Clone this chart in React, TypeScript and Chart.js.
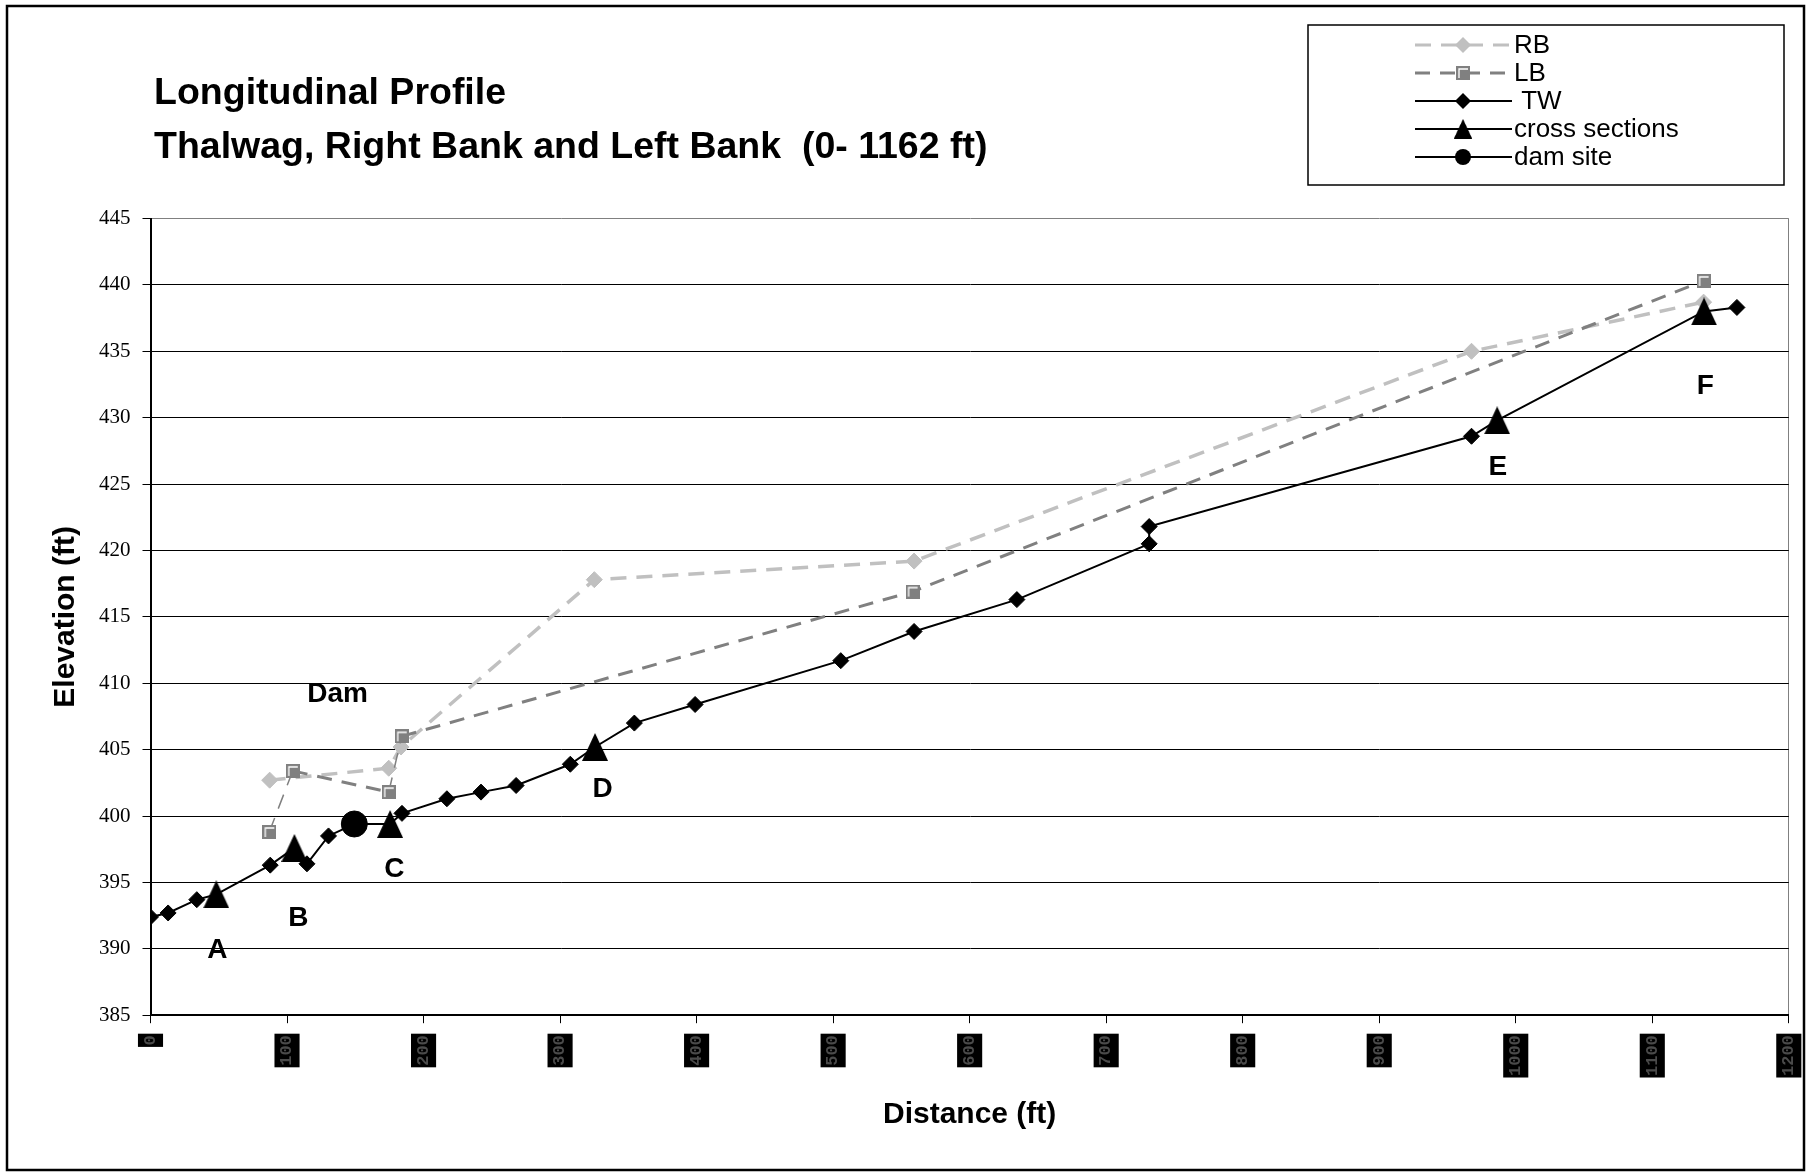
import React, { useEffect, useRef } from 'react';
import { Chart, registerables } from 'chart.js';

Chart.register(...registerables);

// ---- data (distance ft, elevation ft) ----
const TW_X = [0, 12.9, 33.9, 48.2, 87.7, 105.4, 114.6, 130.4, 149.3, 175.5, 184.2, 217.1, 242.1, 267.8, 307.5, 325.6, 354.4, 398.9, 505.6, 559.3, 634.6, 731.5, 731.5, 967.6, 986.4, 1137.9, 1162];
const TW_Y = [392.4, 392.7, 393.7, 394.1, 396.3, 397.6, 396.4, 398.5, 399.4, 399.4, 400.2, 401.3, 401.8, 402.3, 403.9, 405.2, 407.0, 408.4, 411.7, 413.9, 416.3, 420.5, 421.8, 428.6, 429.8, 438.0, 438.3];

const RB_X = [87.3, 174.5, 183.5, 325.1, 559.3, 967.6, 1137.6];
const RB_Y = [402.7, 403.6, 405.2, 417.8, 419.2, 435.0, 438.7];

const LB_X = [87.0, 104.2, 174.5, 184.0, 558.2, 1137.6];
const LB_Y = [398.8, 403.4, 401.8, 406.0, 416.9, 440.3];

const XS_X = [48.2, 105.4, 175.5, 325.6, 986.4, 1137.9];
const XS_Y = [394.1, 397.6, 399.4, 405.2, 429.8, 438.0];

const DAM_X = [149.3];
const DAM_Y = [399.4];

const NOTE_TEXT = ['A', 'B', 'C', 'D', 'E', 'F', 'Dam'];
const NOTE_X = [49.0, 108.3, 178.6, 331.1, 986.9, 1138.8, 137.1];
const NOTE_Y = [389.9, 392.3, 396.0, 402.0, 426.3, 432.4, 409.2];

const LEGEND_LABELS = ['RB', 'LB', ' TW', 'cross sections', 'dam site'];
const TITLE_LINES = ['Longitudinal Profile', 'Thalwag, Right Bank and Left Bank  (0- 1162 ft)'];
const X_TITLE = 'Distance (ft)';
const Y_TITLE = 'Elevation (ft)';
const Y_MIN = 385, Y_MAX = 445, Y_STEP = 5;
const X_MIN = 0, X_MAX = 1200, X_STEP = 100;

const pts = (xs: number[], ys: number[]) => xs.map((x, i) => ({ x, y: ys[i] }));

const W = 1813, H = 1175;
const PLOT_L = 150.5, PLOT_R = 1788.8, PLOT_T = 218.5, PLOT_B = 1015.2;

const RB_COLOR = '#c0c0c0';
const LB_COLOR = '#808080';

const XT_SIZE = 17, XT_LH = 1.3;

function makeTriangle() {
  const c = document.createElement('canvas');
  c.width = 26; c.height = 28;
  const g = c.getContext('2d')!;
  g.fillStyle = '#000';
  g.beginPath();
  g.moveTo(13, 0); g.lineTo(26, 28); g.lineTo(0, 28); g.closePath();
  g.fill();
  return c;
}

function makeSquare() {
  const c = document.createElement('canvas');
  c.width = 14; c.height = 14;
  const g = c.getContext('2d')!;
  g.fillStyle = LB_COLOR;
  g.fillRect(0, 0, 14, 14);
  g.strokeStyle = '#ffffff';
  g.lineWidth = 1.3;
  g.beginPath();
  g.moveTo(3, 12); g.lineTo(3, 3); g.lineTo(12, 3);
  g.stroke();
  return c;
}

const thinSteep = (c: any) =>
  Math.abs(c.p1.y - c.p0.y) > 2 * Math.abs(c.p1.x - c.p0.x) ? 1.5 : undefined;

export default function App() {
  const ref = useRef<HTMLCanvasElement>(null);

  useEffect(() => {
    const canvas = ref.current!;
    const tri = makeTriangle();
    const sq = makeSquare();

    const decor = {
      id: 'decor',
      beforeDraw(chart: any) {
        const ctx = chart.ctx;
        ctx.save();
        ctx.fillStyle = '#fff';
        ctx.fillRect(0, 0, W, H);
        ctx.restore();
      },
      afterDraw(chart: any) {
        const ctx = chart.ctx;
        const xs = chart.scales.x, ys = chart.scales.y;
        ctx.save();
        // outer frame
        ctx.strokeStyle = '#000';
        ctx.lineWidth = 2.5;
        ctx.strokeRect(7, 6, 1797, 1164);
        // title
        ctx.fillStyle = '#000';
        ctx.font = 'bold 37.5px "Liberation Sans", Arial, sans-serif';
        ctx.textAlign = 'left';
        ctx.textBaseline = 'alphabetic';
        ctx.fillText(TITLE_LINES[0], 154, 104);
        ctx.fillText(TITLE_LINES[1], 154, 158);
        // point annotations
        ctx.font = 'bold 28px "Liberation Sans", Arial, sans-serif';
        ctx.textAlign = 'center';
        ctx.textBaseline = 'middle';
        NOTE_TEXT.forEach((t, i) => {
          ctx.fillText(t, xs.getPixelForValue(NOTE_X[i]), ys.getPixelForValue(NOTE_Y[i]));
        });
        // legend
        const bx = 1308, by = 25, bw = 476, bh = 160;
        ctx.fillStyle = '#fff';
        ctx.fillRect(bx, by, bw, bh);
        ctx.strokeStyle = '#000';
        ctx.lineWidth = 1.5;
        ctx.strokeRect(bx, by, bw, bh);
        const lx0 = 1415, lx1 = 1512, mx = 1463;
        const ds = chart.data.datasets;
        const order = [4, 3, 2, 0, 1]; // RB, LB, TW, cross sections, dam site -> dataset indices
        order.forEach((di: number, row: number) => {
          const d = ds[di];
          const y = 45 + row * 28;
          ctx.save();
          ctx.strokeStyle = d.borderColor;
          ctx.lineWidth = d.legendLineWidth;
          ctx.setLineDash(d.borderDash || []);
          ctx.beginPath();
          ctx.moveTo(lx0, y); ctx.lineTo(lx1, y);
          ctx.stroke();
          ctx.setLineDash([]);
          const st = d.pointStyle;
          if (st === 'rectRot') {
            const r = 8;
            ctx.fillStyle = d.pointBackgroundColor;
            ctx.beginPath();
            ctx.moveTo(mx - r, y); ctx.lineTo(mx, y - r); ctx.lineTo(mx + r, y); ctx.lineTo(mx, y + r);
            ctx.closePath();
            ctx.fill();
          } else if (st === 'circle') {
            ctx.fillStyle = '#000';
            ctx.beginPath();
            ctx.arc(mx, y, 8, 0, Math.PI * 2);
            ctx.fill();
          } else if (st && st.width) {
            const s = st === tri ? 0.72 : 1;
            ctx.drawImage(st, mx - (st.width * s) / 2, y - (st.height * s) / 2, st.width * s, st.height * s);
          }
          ctx.restore();
          ctx.fillStyle = '#000';
          ctx.font = '26px "Liberation Sans", Arial, sans-serif';
          ctx.textAlign = 'left';
          ctx.textBaseline = 'middle';
          ctx.fillText(LEGEND_LABELS[row], lx1 + 2, y + 1);
        });
        ctx.restore();
      },
    };

    const chart = new Chart(canvas, {
      type: 'line',
      data: {
        datasets: [
          {
            label: 'cross sections',
            data: pts(XS_X, XS_Y),
            showLine: false,
            borderColor: '#000',
            legendLineWidth: 2,
            pointStyle: tri,
            pointRadius: 13,
            order: 0,
          } as any,
          {
            label: 'dam site',
            data: pts(DAM_X, DAM_Y),
            showLine: false,
            borderColor: '#000',
            legendLineWidth: 2,
            pointStyle: 'circle',
            pointRadius: 13,
            pointBorderWidth: 1,
            pointBackgroundColor: '#000',
            pointBorderColor: '#000',
            order: 1,
          } as any,
          {
            label: 'TW',
            data: pts(TW_X, TW_Y),
            borderColor: '#000',
            borderWidth: 2,
            legendLineWidth: 2,
            pointStyle: 'rectRot',
            pointRadius: (c: any) => {
              const x = TW_X[c.dataIndex];
              return XS_X.includes(x) || DAM_X.includes(x) ? 0 : 8;
            },
            pointBackgroundColor: '#000',
            pointBorderColor: '#000',
            pointBorderWidth: 1,
            tension: 0,
            order: 2,
          } as any,
          {
            label: 'LB',
            data: pts(LB_X, LB_Y),
            borderColor: LB_COLOR,
            borderWidth: 3,
            legendLineWidth: 3,
            borderDash: [15, 10],
            segment: { borderWidth: thinSteep },
            pointStyle: sq,
            pointRadius: 7,
            tension: 0,
            order: 3,
          } as any,
          {
            label: 'RB',
            data: pts(RB_X, RB_Y),
            borderColor: RB_COLOR,
            borderWidth: 3.5,
            legendLineWidth: 3,
            borderDash: [16, 10],
            segment: { borderWidth: thinSteep },
            pointStyle: 'rectRot',
            pointRadius: 8,
            pointBackgroundColor: RB_COLOR,
            pointBorderColor: RB_COLOR,
            pointBorderWidth: 1,
            tension: 0,
            order: 4,
          } as any,
        ],
      },
      options: {
        responsive: false,
        animation: false,
        devicePixelRatio: 1,
        events: [],
        layout: { padding: { left: 0, top: PLOT_T, right: W - PLOT_R, bottom: 0 } },
        plugins: {
          legend: { display: false },
          title: { display: false },
          tooltip: { enabled: false },
        },
        scales: {
          x: {
            type: 'linear',
            min: X_MIN,
            max: X_MAX,
            afterFit: (s: any) => {
              s.height = H - PLOT_B;
              s.paddingLeft = 0;
              s.paddingRight = 0;
            },
            afterBuildTicks: (s: any) => {
              const t = [];
              for (let v = X_MIN; v <= X_MAX; v += X_STEP) t.push({ value: v });
              s.ticks = t;
            },
            ticks: {
              autoSkip: false,
              minRotation: 90,
              maxRotation: 90,
              padding: 12,
              labelOffset: -(XT_SIZE * XT_LH) / 2,
              color: '#4a4a4a',
              callback: (v: any) => String(v),
              font: { family: '"Liberation Mono", monospace', size: XT_SIZE, weight: 'bold', lineHeight: XT_LH },
              showLabelBackdrop: true,
              backdropColor: '#000',
              backdropPadding: 1.5,
            },
            grid: {
              color: (c: any) => (c.tick && c.tick.value === X_MAX ? '#808080' : 'rgba(0,0,0,0)'),
              tickColor: '#000',
              tickLength: 8,
              lineWidth: 1,
            },
            border: { color: '#000', width: 2 },
            title: {
              display: true,
              text: X_TITLE,
              color: '#000',
              font: { family: '"Liberation Sans", Arial, sans-serif', size: 30, weight: 'bold' },
              padding: { top: 0, bottom: 42 },
            },
          } as any,
          y: {
            type: 'linear',
            min: Y_MIN,
            max: Y_MAX,
            afterFit: (s: any) => {
              s.width = PLOT_L;
              s.paddingTop = 0;
              s.paddingBottom = 0;
            },
            ticks: {
              stepSize: Y_STEP,
              padding: 12,
              color: '#000',
              font: { family: '"Liberation Serif", "Times New Roman", serif', size: 21 },
            },
            grid: {
              color: (c: any) => (c.tick && c.tick.value === Y_MAX ? '#808080' : '#000'),
              tickColor: '#000',
              tickLength: 8,
              lineWidth: 1,
            },
            border: { color: '#000', width: 2 },
            title: {
              display: true,
              text: Y_TITLE,
              color: '#000',
              font: { family: '"Liberation Sans", Arial, sans-serif', size: 30, weight: 'bold' },
              padding: { top: 48, bottom: 0 },
            },
          } as any,
        },
      } as any,
      plugins: [decor],
    });
    return () => chart.destroy();
  }, []);

  return (
    <div style={{ position: 'absolute', left: 0, top: 0, width: W, height: H, background: '#fff' }}>
      <canvas ref={ref} width={W} height={H} style={{ display: 'block', width: W, height: H }} />
    </div>
  );
}
